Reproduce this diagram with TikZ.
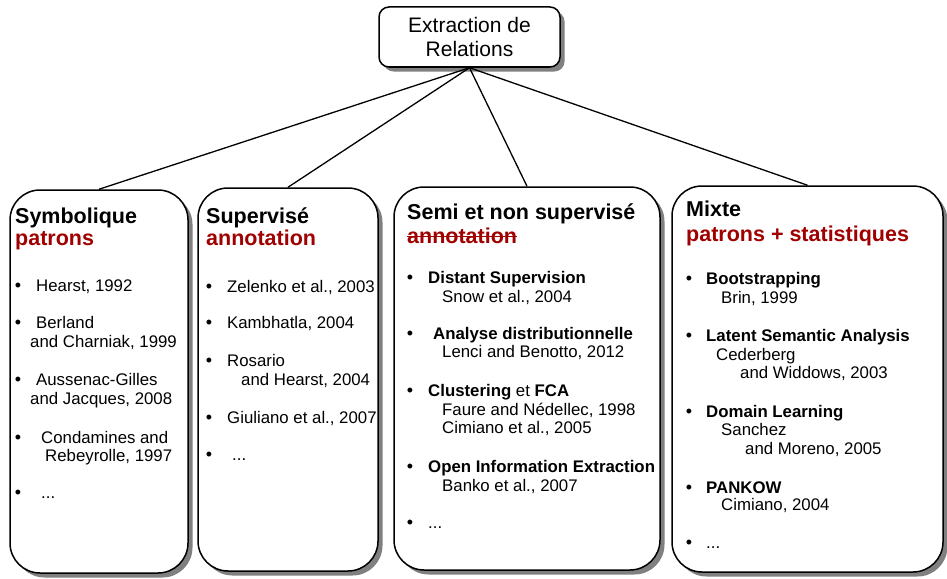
\documentclass[tikz,border=0pt]{standalone}
\usepackage{fontspec}
\setmainfont{Liberation Sans}
\usetikzlibrary{shadows,calc}
\definecolor{hdrred}{RGB}{160,0,0}
\tikzset{
  panel/.style={draw=black, line width=1.5pt, fill=white, rounded corners=30pt,
    drop shadow={shadow xshift=4.5pt, shadow yshift=-4.5pt, fill=black!50, opacity=1},
    inner sep=0pt},
  rootbox/.style={draw=black, line width=1.5pt, fill=white, rounded corners=10pt,
    drop shadow={shadow xshift=4.5pt, shadow yshift=-4.5pt, fill=black!50, opacity=1},
    minimum width=181pt, minimum height=60pt, align=center,
    font=\fontsize{21}{24}\selectfont},
  link/.style={draw=black, line width=1.3pt},
  hdr/.style={anchor=base west, inner sep=0pt, font=\fontsize{21.5}{24}\selectfont\bfseries},
  sub/.style={hdr, text=hdrred},
  txt/.style={anchor=base west, inner sep=0pt, font=\fontsize{16.8}{19}\selectfont},
  btxt/.style={txt, font=\fontsize{16.8}{19}\selectfont\bfseries},
  dot/.style={anchor=base, inner sep=0pt, font=\fontsize{18}{19}\selectfont}
}
\begin{document}
\begin{tikzpicture}[x=1pt,y=-1pt]
\useasboundingbox (0,0) rectangle (947,578);

% root and the four panels
\node[rootbox] (root) at (469.5,37) {Extraction de\\Relations};
\node[panel, minimum width=178pt, minimum height=383pt] (b1) at (99,381.5) {};
\node[panel, minimum width=180pt, minimum height=383pt] (b2) at (288,379.5) {};
\node[panel, minimum width=266pt, minimum height=383pt] (b3) at (527,378.5) {};
\node[panel, minimum width=271pt, minimum height=386pt] (b4) at (807.5,379) {};

\draw[link] (root.south) -- (b1.north);
\draw[link] (root.south) -- (b2.north);
\draw[link] (root.south) -- (b3.north);
\draw[link] (root.south) -- (b4.north);

% panel 1: Symbolique
\node[hdr] (h1) at (15,223) {Symbolique};
\node[sub] (s1) at (15,245) {patrons};
\node[dot] (d11) at (18,291) {•};
\node[txt] (t11) at (36,291) {Hearst, 1992};
\node[dot] (d12) at (18,328) {•};
\node[txt] (t12) at (36,328) {Berland};
\node[txt] (t12b) at (30,347) {and Charniak, 1999};
\node[dot] (d13) at (18,385) {•};
\node[txt] (t13) at (36,385) {Aussenac-Gilles};
\node[txt] (t13b) at (30,404) {and Jacques, 2008};
\node[dot] (d14) at (18,443) {•};
\node[txt] (t14) at (41,443) {Condamines and};
\node[txt] (t14b) at (45,461) {Rebeyrolle, 1997};
\node[dot] (d15) at (18,498) {•};
\node[txt] (t15) at (41,498) {...};

% panel 2: Supervisé
\node[hdr] (h2) at (206,223) {Supervisé};
\node[sub] (s2) at (206,245) {annotation};
\node[dot] (d21) at (209,292) {•};
\node[txt] (t21) at (227,292) {Zelenko et al., 2003};
\node[dot] (d22) at (209,328) {•};
\node[txt] (t22) at (227,328) {Kambhatla, 2004};
\node[dot] (d23) at (209,366) {•};
\node[txt] (t23) at (227,366) {Rosario};
\node[txt] (t23b) at (241,385) {and Hearst, 2004};
\node[dot] (d24) at (209,423) {•};
\node[txt] (t24) at (227,423) {Giuliano et al., 2007};
\node[dot] (d25) at (209,460) {•};
\node[txt] (t25) at (232,460) {...};

% panel 3: Semi et non supervisé
\node[hdr] (h3) at (407,219) {Semi et non supervisé};
\node[sub] (s3) at (407,243) {annotation};
\draw[hdrred, line width=1.3pt] ($(s3.base west)+(0,-6.5)$) -- ($(s3.base east)+(0,-6.5)$);
\node[dot] (d31) at (410,283) {•};
\node[btxt] (t31) at (428,283) {Distant Supervision};
\node[txt] (t31b) at (442,302) {Snow et al., 2004};
\node[dot] (d32) at (410,339) {•};
\node[btxt] (t32) at (433,339) {Analyse distributionnelle};
\node[txt] (t32b) at (442,357) {Lenci and Benotto, 2012};
\node[dot] (d33) at (410,396) {•};
\node[txt] (t33) at (428,396) {\textbf{Clustering} et \textbf{FCA}};
\node[txt] (t33b) at (442,415) {Faure and Nédellec, 1998};
\node[txt] (t33c) at (442,433) {Cimiano et al., 2005};
\node[dot] (d34) at (410,472) {•};
\node[btxt] (t34) at (428,472) {Open Information Extraction};
\node[txt] (t34b) at (442,491) {Banko et al., 2007};
\node[dot] (d35) at (410,528) {•};
\node[txt] (t35) at (428,528) {...};

% panel 4: Mixte
\node[hdr] (h4) at (686,216) {Mixte};
\node[sub] (s4) at (686,241) {patrons + statistiques};
\node[dot] (d41) at (689,284) {•};
\node[btxt] (t41) at (706,284) {Bootstrapping};
\node[txt] (t41b) at (721,303) {Brin, 1999};
\node[dot] (d42) at (689,341) {•};
\node[btxt] (t42) at (706,341) {Latent Semantic Analysis};
\node[txt] (t42b) at (716,360) {Cederberg};
\node[txt] (t42c) at (740,378) {and Widdows, 2003};
\node[dot] (d43) at (689,417) {•};
\node[btxt] (t43) at (706,417) {Domain Learning};
\node[txt] (t43b) at (721,435) {Sanchez};
\node[txt] (t43c) at (745,454) {and Moreno, 2005};
\node[dot] (d44) at (689,493) {•};
\node[btxt] (t44) at (706,493) {PANKOW};
\node[txt] (t44b) at (721,510) {Cimiano, 2004};
\node[dot] (d45) at (689,548) {•};
\node[txt] (t45) at (706,548) {...};
\end{tikzpicture}
\end{document}
